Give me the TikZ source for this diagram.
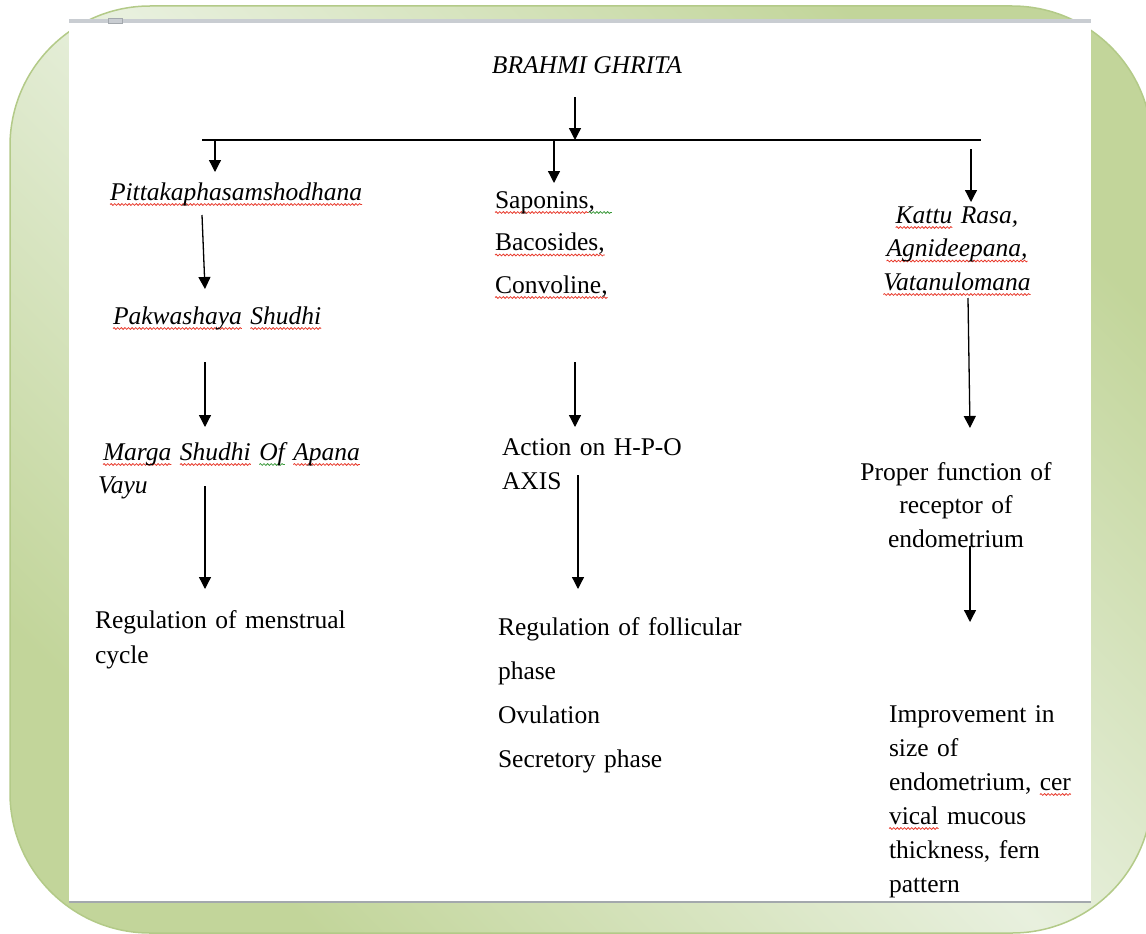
\documentclass[tikz,border=0pt]{standalone}
\usepackage{fontspec}
\setmainfont{Liberation Serif}
\usetikzlibrary{arrows.meta,decorations.pathmorphing}
\definecolor{gl}{HTML}{E8F0DE}
\definecolor{gd}{HTML}{C2D59A}
\definecolor{gedge}{HTML}{B3CA88}
\definecolor{spred}{HTML}{E8392B}
\definecolor{spgreen}{HTML}{3C9A3C}
\definecolor{strip}{HTML}{C9CDD2}
\definecolor{bline}{HTML}{A3A8AD}
\newlength\wvlen
\newcommand\sqw[2]{\leavevmode\settowidth{\wvlen}{#2}\rlap{\tikz[overlay]\draw[#1,line width=0.8pt,decorate,decoration={snake,amplitude=0.9pt,segment length=3.6pt}] (0pt,-4.5pt) -- (\wvlen,-4.5pt);}#2}
\newcommand\rw[1]{\sqw{spred}{#1}}
\newcommand\gw[1]{\sqw{spgreen}{#1}}
\tikzset{
  lefttxt/.style={inner sep=0pt, outer sep=0pt, text width=300pt, align=left, anchor=base west},
  ctrtxt/.style={inner sep=0pt, outer sep=0pt, text width=240pt, align=center, anchor=base},
  fs/.style={font=\fontsize{25.5}{#1}\selectfont},
  fsi/.style={font=\fontsize{25.5}{#1}\selectfont\itshape},
  arr/.style={line width=1.3pt, -{Triangle[width=12pt,length=12pt]}},
}
\begin{document}
\begin{tikzpicture}[x=1pt,y=-1pt]
\useasboundingbox (0,0) rectangle (1146,934);
% background frame
\path[top color=gd, bottom color=gd, middle color=gl, shading angle=-45,
      draw=gedge, line width=1.5pt, rounded corners=140pt] (10,6) rectangle (1152,933);
\fill[white] (69,22) rectangle (1091,902);
\fill[strip] (69,19.5) rectangle (1091,23);
\draw[bline, line width=0.6pt] (108,18) rectangle (122,23);
\draw[bline, line width=1.2pt] (69,902) -- (1091,902);

\begin{scope}
\clip (69,23) rectangle (1091,901.5);
% title and bar
\node[fsi=30, inner sep=0pt, anchor=base] (title) at (587,74) {BRAHMI GHRITA};
\coordinate (t0) at (575,97);
\coordinate (t1) at (575,140);
\coordinate (barL) at (202,140);
\coordinate (barR) at (981,140);
\draw[line width=1.3pt] (barL) -- (barR);
\draw[arr] (t0) -- (t1);

% left column
\node[lefttxt, fsi=34] (p1) at (110,200) {\rw{Pittakaphasamshodhana}};
\node[lefttxt, fsi=34] (p2) at (113,324) {\rw{Pakwashaya} \rw{Shudhi}};
\node[lefttxt, fsi=33] (p3) at (98,460) {\hspace*{5pt}\rw{Marga} \rw{Shudhi} \gw{Of} \rw{Apana}\\Vayu};
\node[lefttxt, fs=35] (p4) at (95,628) {Regulation of menstrual\\cycle};

% middle column
\node[lefttxt, fs=42.5] (m1) at (495,208) {\rw{Saponins}\gw{,\ \ }\\\rw{Bacosides,}\\\rw{Convoline,}};
\node[lefttxt, fs=34] (m2) at (502,455) {Action on H-P-O\\AXIS};
\node[lefttxt, fs=44.3] (m3) at (498,635) {Regulation of follicular\\phase\\Ovulation\\Secretory phase};

% right column
\node[ctrtxt, fsi=33.5] (r1) at (957,223) {\rw{Kattu} Rasa,\\\rw{Agnideepana,}\\\rw{Vatanulomana}};
\node[ctrtxt, fs=33.5] (r2) at (956,480) {Proper function of\\receptor of\\endometrium};
\node[lefttxt, fs=34] (r3) at (889,722) {Improvement in\\size of\\endometrium, \rw{cer}\\\rw{vical} mucous\\thickness, fern\\pattern};

% arrow end points
\coordinate (a1s) at (215,140);  \coordinate (a1e) at (215,172);
\coordinate (a2s) at (554,140);  \coordinate (a2e) at (554,183);
\coordinate (a3s) at (971,149);  \coordinate (a3e) at (971,202);
\coordinate (a4s) at (202,215);  \coordinate (a4e) at (205,289);
\coordinate (a5s) at (205,362);  \coordinate (a5e) at (205,427);
\coordinate (a6s) at (205,486);  \coordinate (a6e) at (205,589);
\coordinate (a7s) at (575,362);  \coordinate (a7e) at (575,427);
\coordinate (a8s) at (578,475);  \coordinate (a8e) at (578,589);
\coordinate (a9s) at (968,298);  \coordinate (a9e) at (970,428);
\coordinate (a10s) at (970,546); \coordinate (a10e) at (970,622);

\draw[arr] (a1s) -- (a1e);
\draw[arr] (a2s) -- (a2e);
\draw[arr] (a3s) -- (a3e);
\draw[arr] (a4s) -- (a4e);
\draw[arr] (a5s) -- (a5e);
\draw[arr] (a6s) -- (a6e);
\draw[arr] (a7s) -- (a7e);
\draw[arr] (a8s) -- (a8e);
\draw[arr] (a9s) -- (a9e);
\draw[arr] (a10s) -- (a10e);
\end{scope}
\end{tikzpicture}
\end{document}
